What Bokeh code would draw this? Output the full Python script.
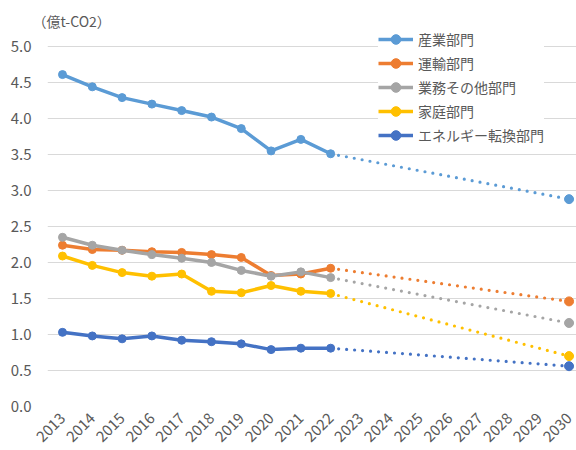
from bokeh.plotting import figure
from bokeh.models import (Range1d, FixedTicker, NumeralTickFormatter, Legend,
                          LegendItem, ColumnDataSource, Title)
from bokeh.embed import file_html
from bokeh.resources import INLINE
import math

years = [2013, 2014, 2015, 2016, 2017, 2018, 2019, 2020, 2021, 2022]
target_year = 2030
tick_years = list(range(2013, 2031))

names = ["産業部門", "運輸部門", "業務その他部門", "家庭部門", "エネルギー転換部門"]
sangyo = [4.61, 4.44, 4.29, 4.20, 4.11, 4.02, 3.86, 3.55, 3.71, 3.51]
unyu = [2.24, 2.18, 2.17, 2.15, 2.14, 2.11, 2.07, 1.82, 1.84, 1.92]
gyomu = [2.35, 2.24, 2.17, 2.11, 2.06, 2.00, 1.89, 1.81, 1.87, 1.79]
katei = [2.09, 1.96, 1.86, 1.81, 1.84, 1.60, 1.58, 1.68, 1.60, 1.57]
energy = [1.03, 0.98, 0.94, 0.98, 0.92, 0.90, 0.87, 0.79, 0.81, 0.81]
target_2030 = [2.88, 1.46, 1.16, 0.70, 0.56]
y_ticks = [0.0, 0.5, 1.0, 1.5, 2.0, 2.5, 3.0, 3.5, 4.0, 4.5, 5.0]
unit_label = "（億t-CO2）"

series = [sangyo, unyu, gyomu, katei, energy]
colors = ["#5B9BD5", "#ED7D31", "#A5A5A5", "#FFC000", "#4472C4"]

FONT = "Noto Sans CJK JP"
TOP = 30

p = figure(width=576, height=450, output_backend="svg", toolbar_location=None,
           x_range=Range1d(2012.497, 2030.25), y_range=Range1d(0, (406 - TOP) / 72),
           min_border_left=47, min_border_right=0, min_border_top=TOP,
           min_border_bottom=44)
p.add_layout(Title(text=unit_label, align="left", offset=-20, standoff=0,
                   text_font=FONT, text_font_size="14px",
                   text_font_style="normal", text_color="#595959",
                   vertical_align="bottom", padding=(5, 0, 0, 0)), "above")

p.outline_line_color = None
p.background_fill_color = "white"
p.border_fill_color = "white"

p.xgrid.grid_line_color = None
p.ygrid.grid_line_color = "#D9D9D9"
p.ygrid.grid_line_width = 1
p.ygrid.ticker = FixedTicker(ticks=y_ticks)

p.yaxis.ticker = FixedTicker(ticks=y_ticks)
p.yaxis.formatter = NumeralTickFormatter(format="0.0")
p.xaxis.ticker = FixedTicker(ticks=tick_years)
for ax in (p.xaxis[0], p.yaxis[0]):
    ax.axis_line_color = None
    ax.major_tick_line_color = None
    ax.minor_tick_line_color = None
    ax.major_label_text_color = "#595959"
    ax.major_label_text_font = FONT
p.yaxis.major_label_text_font_size = "15px"
p.yaxis.major_label_standoff = 10
p.xaxis.major_label_text_font_size = "15px"
p.xaxis.major_label_orientation = math.pi / 4
p.xaxis.major_label_standoff = 3

items = []
for name, vals, tgt, col in zip(names, series, target_2030, colors):
    src = ColumnDataSource(dict(x=years, y=vals))
    r_line = p.line("x", "y", source=src, line_color=col, line_width=3.5)
    r_pts = p.scatter("x", "y", source=src, size=8, fill_color=col, line_color=col)
    dsrc = ColumnDataSource(dict(x=[years[-1], target_year], y=[vals[-1], tgt]))
    p.line("x", "y", source=dsrc, line_color=col, line_width=3.2,
           line_dash="0 8", line_cap="round")
    tsrc = ColumnDataSource(dict(x=[target_year], y=[tgt]))
    p.scatter("x", "y", source=tsrc, size=9, fill_color=col, line_color=col)
    items.append(LegendItem(label=name, renderers=[r_line, r_pts]))

legend = Legend(items=items, location=(331, 259), padding=3, spacing=0,
                margin=0, glyph_width=35, glyph_height=24, label_height=24,
                label_text_font=FONT, label_text_font_size="14px",
                label_text_color="#595959", label_standoff=5,
                background_fill_color="white", background_fill_alpha=1.0,
                border_line_color=None)
p.add_layout(legend, "center")

open("out.html", "w").write(file_html(p, INLINE))
